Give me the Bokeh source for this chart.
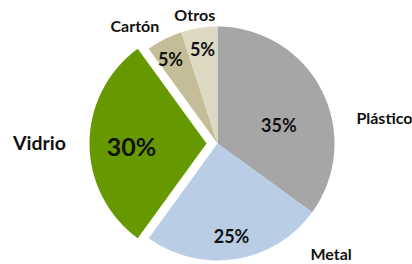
import numpy as np
from bokeh.plotting import figure
from bokeh.models import ColumnDataSource, Range1d
from bokeh.core.properties import value
from bokeh.embed import file_html
from bokeh.resources import INLINE

# ---- data ----
categories = ["Plástico", "Metal", "Vidrio", "Cartón", "Otros"]
shares = [35, 25, 30, 5, 5]
pct_labels = ["35%", "25%", "30%", "5%", "5%"]

# ---- style / layout ----
colors = ["#A6A6A6", "#B9CDE5", "#669900", "#C4BD97", "#DDD9C3"]
W, H = 412, 264
cx, cy, R = 217, 121, 117
explode = np.array([0, 0, 11, 0, 0])
# label placement: (angle clockwise from top in degrees, distance from slice centre)
pct_pos = [(73.6, 64), (171.4, 94), (268, 75), (331, 97), (351, 96)]
cat_pos = [(81, 169), (134, 158), (270.3, 167), (325, 144), (350, 131)]
pct_size = ["18px", "18px", "25px", "18px", "18px"]
cat_size = ["16px", "16px", "19.5px", "16px", "16px"]
FONT = "Lato"

frac = np.array(shares, dtype=float) / sum(shares)
cum = np.concatenate([[0.0], np.cumsum(frac)])
start = np.pi / 2 - 2 * np.pi * cum[:-1]
end = np.pi / 2 - 2 * np.pi * cum[1:]
mid = (start + end) / 2
ox = cx + explode * np.cos(mid)
oy = cy + explode * np.sin(mid)

def polar(pos):
    xs, ys = [], []
    for i, (a, d) in enumerate(pos):
        t = np.radians(a)
        xs.append(ox[i] + d * np.sin(t))
        ys.append(oy[i] + d * np.cos(t))
    return xs, ys

px, py = polar(pct_pos)
lx, ly = polar(cat_pos)

src = ColumnDataSource(dict(x=ox, y=oy, start=start, end=end, color=colors))
pct_src = ColumnDataSource(dict(x=px, y=py, text=pct_labels, size=pct_size))
cat_src = ColumnDataSource(dict(x=lx, y=ly, text=categories, size=cat_size))

p = figure(width=W, height=H, x_range=Range1d(0, W), y_range=Range1d(0, H),
           output_backend="svg", toolbar_location=None, min_border=0)
p.axis.visible = False
p.grid.visible = False
p.outline_line_color = None

p.wedge(x="x", y="y", radius=R, start_angle="start", end_angle="end",
        direction="clock", fill_color="color", line_color=None, source=src)

p.text(x="x", y="y", text="text", source=pct_src, text_font=value(FONT),
       text_font_style="bold", text_font_size="size", text_color="#111111",
       text_align="center", text_baseline="middle")
p.text(x="x", y="y", text="text", source=cat_src, text_font=value(FONT),
       text_font_style="bold", text_font_size="size", text_color="#111111",
       text_align="center", text_baseline="middle")

open("out.html", "w").write(file_html(p, INLINE))
